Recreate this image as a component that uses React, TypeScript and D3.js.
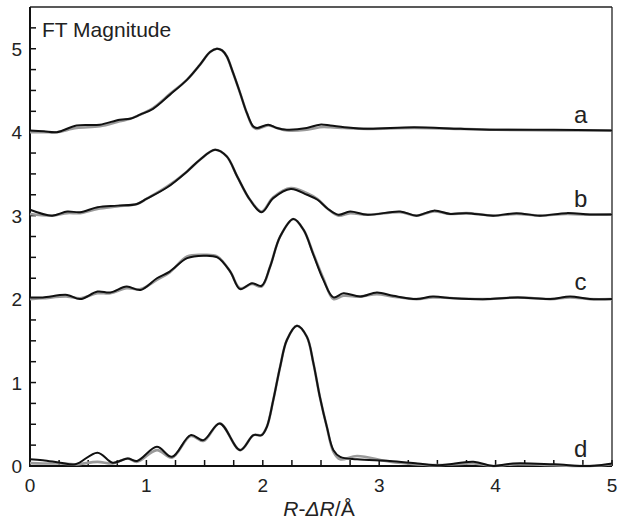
import React, { useEffect, useRef } from "react";
import * as d3 from "d3";

// EXAFS Fourier transform magnitudes (offset removed)
const offsets = [4, 3, 2, 0];
const curveLabels = ["a", "b", "c", "d"];

const aFit: [number, number][] = [[0,0.02],[0.12,0.01],[0.23,0.0],[0.4,0.08],[0.6,0.09],[0.77,0.15],[0.86,0.16],[0.946,0.21],[1.057,0.28],[1.203,0.45],[1.35,0.63],[1.461,0.81],[1.547,0.96],[1.605,1.0],[1.65,0.98],[1.69,0.91],[1.745,0.71],[1.805,0.47],[1.863,0.23],[1.917,0.07],[1.95,0.05],[2.046,0.09],[2.12,0.05],[2.207,0.03],[2.378,0.05],[2.49,0.09],[2.58,0.08],[2.7,0.06],[2.9,0.04],[3.3,0.06],[3.7,0.04],[4.0,0.03],[4.5,0.03],[5.0,0.02]];
const aExp: [number, number][] = [[0,0.0],[0.12,0.0],[0.23,0.0],[0.4,0.05],[0.6,0.07],[0.77,0.13],[0.86,0.16],[0.946,0.21],[1.057,0.29],[1.203,0.46],[1.35,0.63],[1.461,0.81],[1.547,0.96],[1.605,1.0],[1.65,0.98],[1.69,0.91],[1.745,0.71],[1.805,0.47],[1.863,0.23],[1.917,0.06],[1.95,0.04],[2.046,0.08],[2.12,0.05],[2.207,0.02],[2.378,0.03],[2.49,0.06],[2.58,0.06],[2.7,0.05],[2.9,0.04],[3.3,0.05],[3.7,0.04],[4.0,0.03],[4.5,0.02],[5.0,0.02]];

const bFit: [number, number][] = [[0,0.07],[0.19,0.0],[0.32,0.05],[0.43,0.04],[0.58,0.1],[0.75,0.12],[0.92,0.14],[1.0,0.2],[1.18,0.34],[1.35,0.53],[1.46,0.67],[1.59,0.79],[1.69,0.71],[1.78,0.47],[1.89,0.19],[1.99,0.04],[2.09,0.21],[2.24,0.32],[2.38,0.25],[2.47,0.19],[2.56,0.08],[2.65,0.01],[2.75,0.05],[2.9,0.01],[3.18,0.05],[3.32,0.0],[3.47,0.06],[3.61,0.02],[3.75,0.03],[3.98,0.0],[4.18,0.03],[4.38,0.0],[4.61,0.03],[4.81,0.015],[5.0,0.015]];
const bExp: [number, number][] = [[0,0.02],[0.19,0.0],[0.32,0.03],[0.43,0.03],[0.58,0.08],[0.75,0.11],[0.92,0.14],[1.0,0.2],[1.18,0.35],[1.35,0.53],[1.46,0.67],[1.59,0.79],[1.69,0.71],[1.78,0.47],[1.89,0.19],[1.99,0.05],[2.09,0.22],[2.24,0.33],[2.38,0.27],[2.47,0.2],[2.56,0.08],[2.65,0.0],[2.75,0.03],[2.9,0.01],[3.18,0.04],[3.32,0.0],[3.47,0.05],[3.61,0.02],[3.75,0.03],[3.98,0.0],[4.18,0.02],[4.38,0.0],[4.61,0.02],[4.81,0.01],[5.0,0.015]];

const cFit: [number, number][] = [[0,0.02],[0.11,0.02],[0.32,0.05],[0.43,0.0],[0.58,0.09],[0.69,0.08],[0.83,0.15],[0.95,0.11],[1.09,0.25],[1.2,0.33],[1.35,0.49],[1.49,0.52],[1.61,0.5],[1.72,0.33],[1.805,0.12],[1.906,0.19],[1.99,0.16],[2.063,0.39],[2.149,0.75],[2.263,0.96],[2.35,0.83],[2.435,0.53],[2.52,0.23],[2.607,0.02],[2.693,0.07],[2.837,0.03],[2.98,0.08],[3.12,0.04],[3.32,0.0],[3.46,0.03],[3.64,0.01],[3.93,0.0],[4.19,0.02],[4.47,0.0],[4.64,0.03],[4.81,0.0],[5.0,0.0]];
const cExp: [number, number][] = [[0,0.0],[0.11,0.01],[0.32,0.03],[0.43,0.01],[0.58,0.07],[0.69,0.07],[0.83,0.13],[0.95,0.12],[1.09,0.23],[1.2,0.32],[1.35,0.51],[1.49,0.53],[1.61,0.51],[1.72,0.33],[1.805,0.13],[1.906,0.18],[1.99,0.15],[2.063,0.39],[2.149,0.75],[2.263,0.96],[2.35,0.83],[2.435,0.54],[2.52,0.25],[2.607,0.0],[2.693,0.04],[2.837,0.03],[2.98,0.06],[3.12,0.03],[3.32,0.0],[3.46,0.02],[3.64,0.01],[3.93,0.0],[4.19,0.02],[4.47,0.0],[4.64,0.02],[4.81,0.0],[5.0,0.0]];

const dFit: [number, number][] = [[0,0.08],[0.11,0.07],[0.26,0.04],[0.39,0.02],[0.58,0.16],[0.71,0.04],[0.84,0.09],[0.92,0.06],[1.09,0.23],[1.22,0.11],[1.38,0.37],[1.49,0.31],[1.63,0.51],[1.805,0.19],[1.92,0.37],[1.99,0.37],[2.035,0.47],[2.09,0.79],[2.149,1.19],[2.207,1.51],[2.293,1.68],[2.378,1.55],[2.435,1.23],[2.49,0.83],[2.55,0.47],[2.607,0.19],[2.665,0.11],[2.81,0.08],[3.09,0.06],[3.33,0.03],[3.52,0.01],[3.81,0.05],[3.98,0.0],[4.15,0.03],[4.5,0.02],[4.81,0.0],[5.0,0.03]];
const dExp: [number, number][] = [[0,0.035],[0.11,0.03],[0.26,0.03],[0.39,0.02],[0.58,0.05],[0.71,0.03],[0.84,0.09],[0.92,0.05],[1.09,0.19],[1.22,0.1],[1.38,0.36],[1.49,0.3],[1.63,0.51],[1.805,0.19],[1.92,0.37],[1.99,0.37],[2.035,0.47],[2.09,0.79],[2.149,1.19],[2.207,1.51],[2.293,1.68],[2.378,1.55],[2.435,1.23],[2.49,0.83],[2.55,0.47],[2.607,0.17],[2.665,0.08],[2.81,0.12],[3.09,0.05],[3.33,0.02],[3.52,0.01],[3.81,0.03],[3.98,0.0],[4.15,0.02],[4.5,0.01],[4.81,0.0],[5.0,0.02]];

const fitSeries = [aFit, bFit, cFit, dFit];
const expSeries = [aExp, bExp, cExp, dExp];

const xTickLabels = [0, 1, 2, 3, 4, 5];
const yTickLabels = [0, 1, 2, 3, 4, 5];

const FONT = "'Liberation Sans', Arial, Helvetica, sans-serif";

const App = () => {
  const ref = useRef<SVGSVGElement>(null);

  useEffect(() => {
    const width = 619;
    const height = 520;
    const m = { left: 30, right: 7, top: 7, bottom: 54 };

    const svg = d3.select(ref.current);
    svg.selectAll("*").remove();
    svg.attr("width", width).attr("height", height);

    const x = d3.scaleLinear().domain([0, 5]).range([m.left, width - m.right]);
    const y = d3.scaleLinear().domain([0, 5.5]).range([height - m.bottom, m.top]);

    // frame: thin top/right, heavier left/bottom
    svg.append("line")
      .attr("x1", x(0)).attr("x2", x(5)).attr("y1", y(5.5)).attr("y2", y(5.5))
      .attr("stroke", "#222").attr("stroke-width", 1.3);
    svg.append("line")
      .attr("x1", x(5)).attr("x2", x(5)).attr("y1", y(0)).attr("y2", y(5.5))
      .attr("stroke", "#222").attr("stroke-width", 1.3);

    // minor ticks every 0.25, pointing inward
    const xt = d3.range(0, 5.001, 0.25);
    svg.append("g").selectAll("line").data(xt).enter().append("line")
      .attr("x1", d => x(d)).attr("x2", d => x(d))
      .attr("y1", y(0)).attr("y2", y(0) - 6)
      .attr("stroke", "#111").attr("stroke-width", 1.5);
    const yt = d3.range(0, 5.26, 0.25);
    svg.append("g").selectAll("line").data(yt).enter().append("line")
      .attr("x1", x(0)).attr("x2", x(0) + 6)
      .attr("y1", d => y(d)).attr("y2", d => y(d))
      .attr("stroke", "#111").attr("stroke-width", 1.5);

    svg.append("line")
      .attr("x1", x(0)).attr("x2", x(0)).attr("y1", y(0) + 1).attr("y2", y(5.5))
      .attr("stroke", "#111").attr("stroke-width", 2);
    svg.append("line")
      .attr("x1", x(0) - 1).attr("x2", x(5)).attr("y1", y(0)).attr("y2", y(0))
      .attr("stroke", "#111").attr("stroke-width", 2);

    // tick labels
    svg.append("g").selectAll("text").data(xTickLabels).enter().append("text")
      .attr("x", d => x(d)).attr("y", y(0) + 26)
      .attr("text-anchor", "middle")
      .attr("font-family", FONT).attr("font-size", 19).attr("fill", "#222")
      .text(d => d);
    svg.append("g").selectAll("text").data(yTickLabels).enter().append("text")
      .attr("x", x(0) - 8).attr("y", d => y(d) + 7)
      .attr("text-anchor", "end")
      .attr("font-family", FONT).attr("font-size", 19).attr("fill", "#222")
      .text(d => d);

    // curves
    const line = d3.line<[number, number]>()
      .x(d => x(d[0]))
      .curve(d3.curveCatmullRom.alpha(0.5));

    fitSeries.forEach((fit, i) => {
      const off = offsets[i];
      line.y(d => y(d[1] + off));
      svg.append("path")
        .datum(expSeries[i])
        .attr("fill", "none").attr("stroke", "#9a9a9a").attr("stroke-width", 2.6)
        .attr("d", line);
      svg.append("path")
        .datum(fit)
        .attr("fill", "none").attr("stroke", "#111").attr("stroke-width", 2)
        .attr("d", line);
      svg.append("text")
        .attr("x", x(4.73)).attr("y", y(off) - 9)
        .attr("text-anchor", "middle")
        .attr("font-family", FONT).attr("font-size", 24).attr("fill", "#222")
        .text(curveLabels[i]);
    });

    svg.append("text")
      .attr("x", x(0) + 12).attr("y", 37)
      .attr("font-family", FONT).attr("font-size", 21).attr("fill", "#222")
      .text("FT Magnitude");

    const title = svg.append("text")
      .attr("x", (x(0) + x(5)) / 2 - 2).attr("y", 516)
      .attr("text-anchor", "middle")
      .attr("font-family", FONT).attr("font-size", 21).attr("fill", "#222");
    title.append("tspan").attr("font-style", "italic").text("R");
    title.append("tspan").text("-");
    title.append("tspan").attr("font-style", "italic").text("ΔR");
    title.append("tspan").text("/Å");
  }, []);

  return (
    <svg
      ref={ref}
      style={{ position: "absolute", left: 0, top: 0, display: "block", background: "#fff" }}
    ></svg>
  );
};

export default App;
